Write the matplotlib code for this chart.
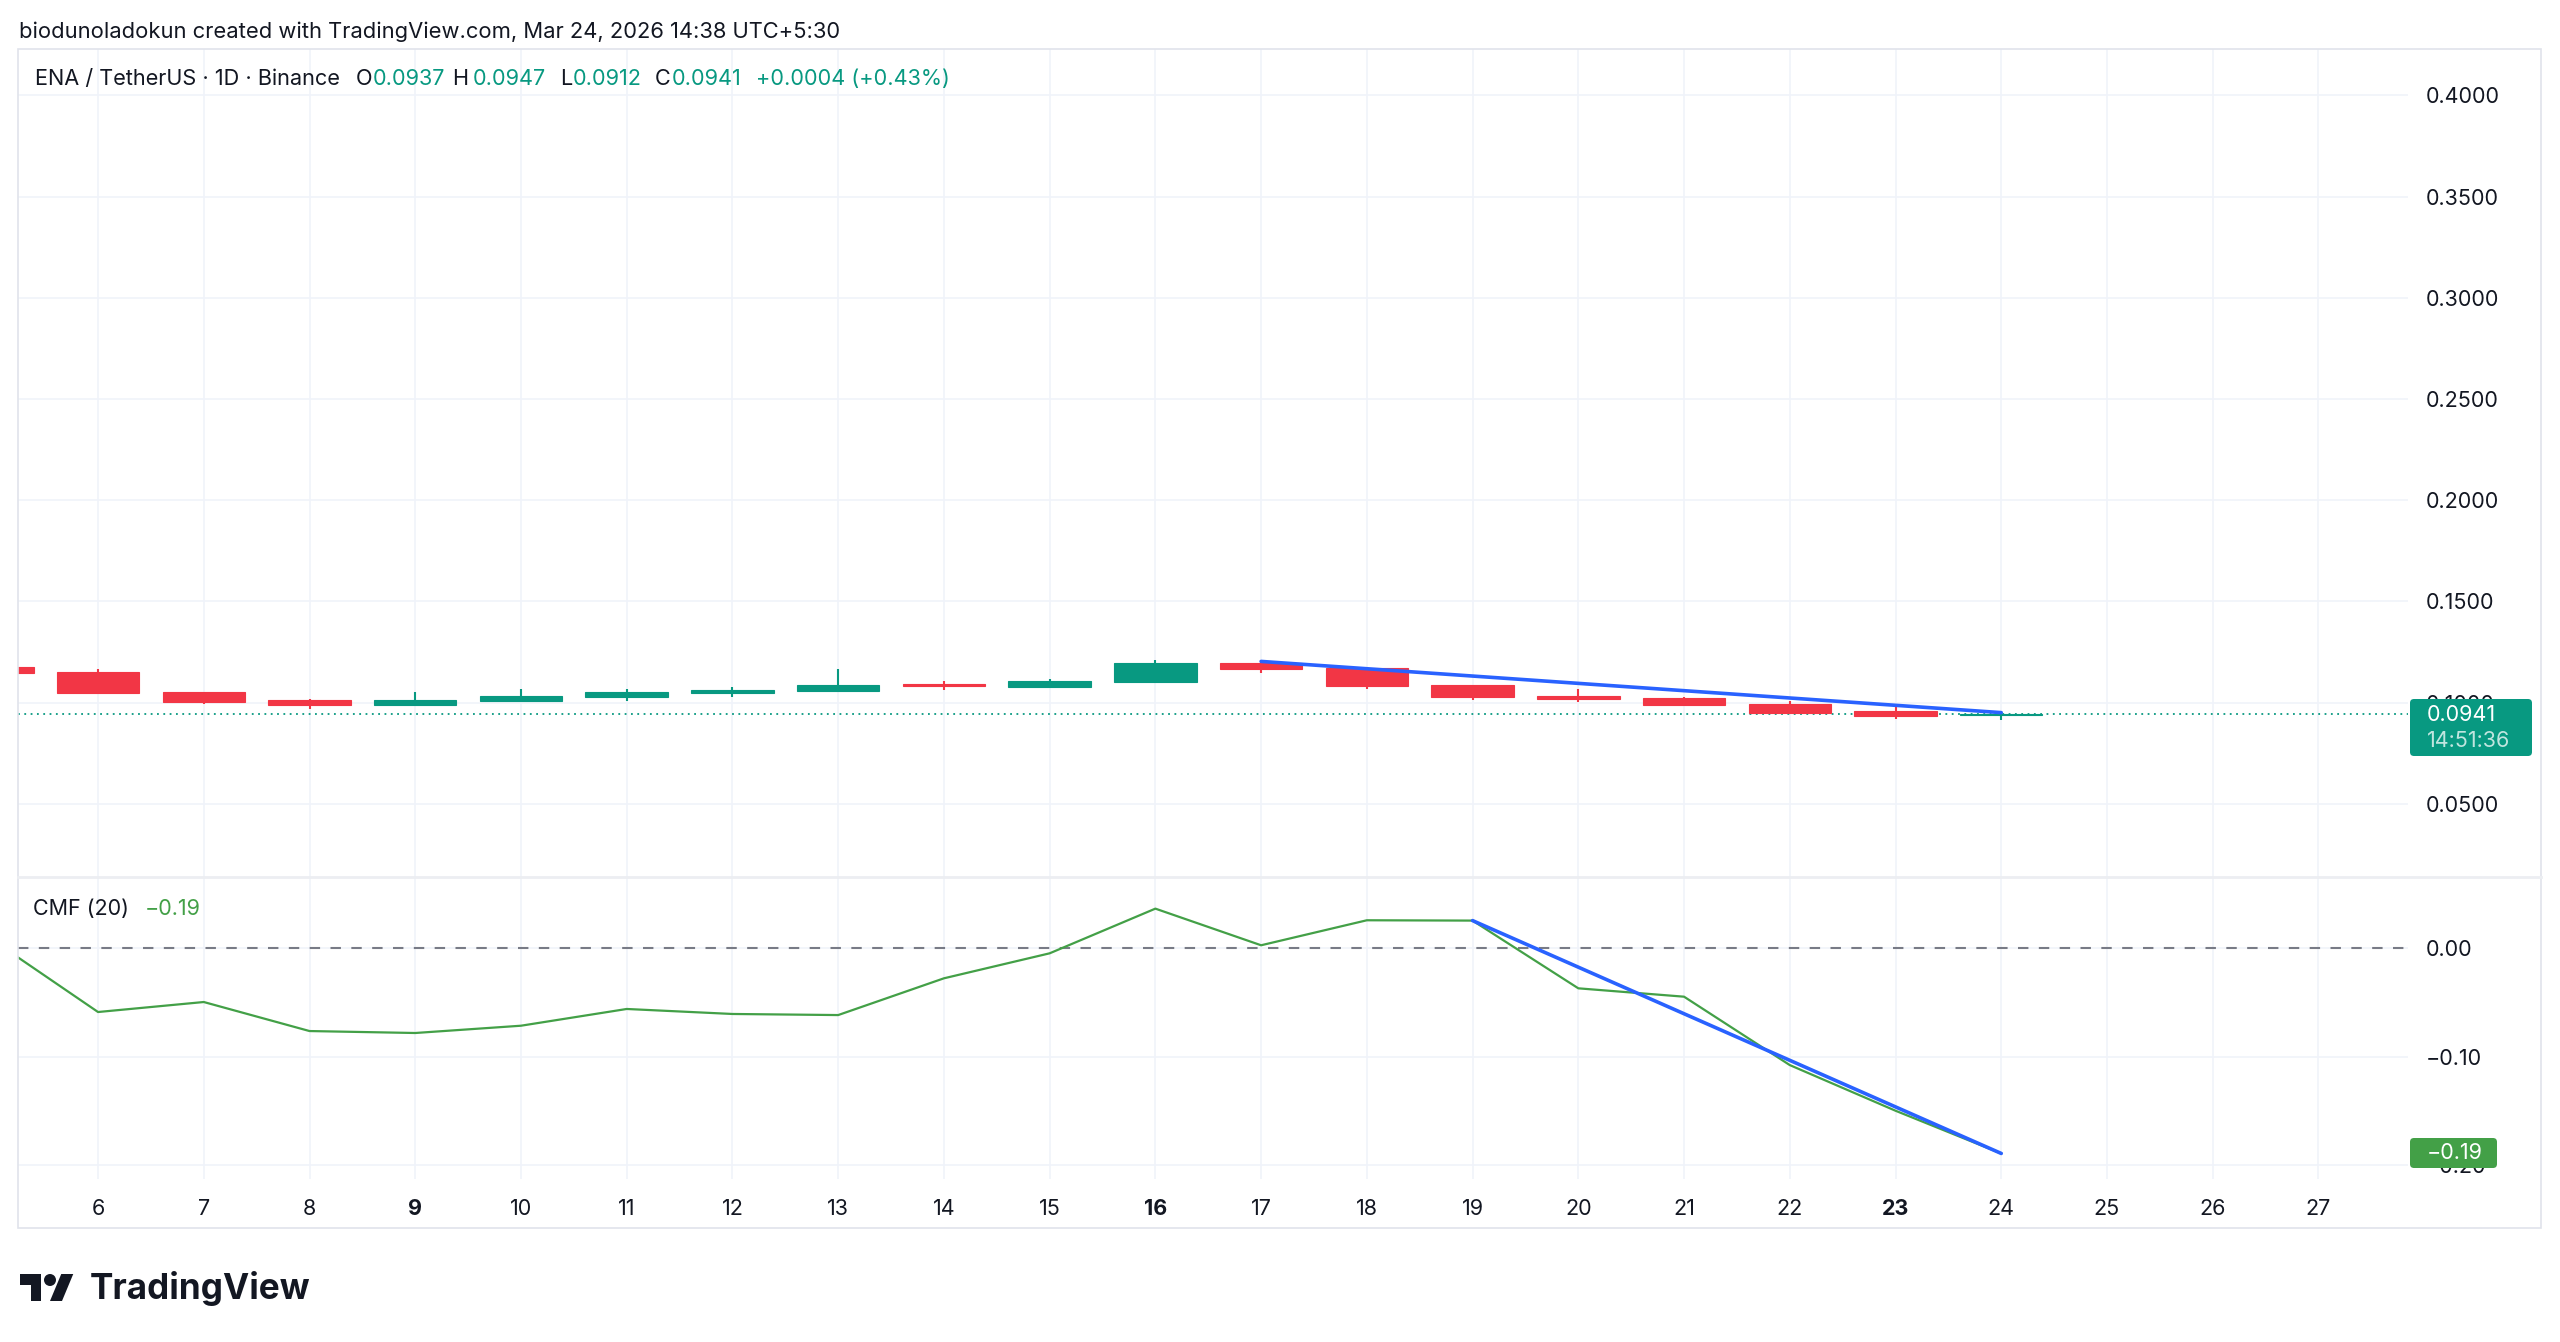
import matplotlib.pyplot as plt
from matplotlib.patches import Rectangle, FancyBboxPatch, Polygon, Circle
from matplotlib.lines import Line2D
from matplotlib.transforms import IdentityTransform

# Daily candles ENA / USDT (Binance), day of month
days = list(range(5, 25))
opens = [0.1177, 0.1152, 0.1050, 0.1010, 0.0986, 0.1007, 0.1027, 0.1045, 0.1058, 0.1093,
         0.1076, 0.1101, 0.1197, 0.1169, 0.1086, 0.1030, 0.1022, 0.0991, 0.0956, 0.0937]
highs = [0.1185, 0.1164, 0.1050, 0.1019, 0.1050, 0.1068, 0.1068, 0.1076, 0.1164, 0.1104,
         0.1117, 0.1208, 0.1208, 0.1177, 0.1086, 0.1068, 0.1027, 0.1007, 0.0991, 0.0947]
lows = [0.1140, 0.1040, 0.0992, 0.0968, 0.0986, 0.1007, 0.1009, 0.1027, 0.1058, 0.1063,
        0.1071, 0.1101, 0.1147, 0.1068, 0.1010, 0.1004, 0.0987, 0.0941, 0.0918, 0.0912]
closes = [0.1147, 0.1045, 0.1004, 0.0986, 0.1014, 0.1030, 0.1050, 0.1063, 0.1086, 0.1081,
          0.1104, 0.1197, 0.1164, 0.1083, 0.1027, 0.1017, 0.0987, 0.0949, 0.0935, 0.0941]

# Chaikin Money Flow (20)
cmf = [0.0075, -0.0589, -0.0497, -0.0764, -0.0782, -0.0715, -0.0561, -0.0607, -0.0617, -0.0279,
       -0.0049, 0.0362, 0.0025, 0.0255, 0.0252, -0.0371, -0.0448, -0.1077, -0.1497, -0.1890]

# drawn trend lines
trend_price_days = [17, 24]
trend_price_vals = [0.1203, 0.0950]
trend_cmf_days = [19, 24]
trend_cmf_vals = [0.0252, -0.1890]

day_ticks = list(range(6, 28))
bold_days = [9, 16, 23]
price_ticks = [0.05, 0.10, 0.15, 0.20, 0.25, 0.30, 0.35, 0.40]
cmf_ticks = [0.0, -0.1, -0.2]
cmf_tick_labels = ['0.00', '\u22120.10', '\u22120.20']

UP = '#089981'
DOWN = '#F23645'
CMF_COL = '#43A047'
BLUE = '#2962FF'
TXT = '#131722'
GRID = '#F0F3FA'

plt.rcParams['font.family'] = ['Inter', 'DejaVu Sans']

W, H = 2560, 1342
fig = plt.figure(figsize=(W / 100, H / 100), dpi=100)
fig.patch.set_facecolor('white')


def box(x0, y0, x1, y1):
    # pixel box (y from top) -> figure fraction rect
    return [x0 / W, 1 - y1 / H, (x1 - x0) / W, (y1 - y0) / H]


def ftext(x, y, s, **kw):
    fig.text(x / W, 1 - y / H, s, va='center', ha='left', **kw)


ax = fig.add_axes(box(18, 49, 2408, 877))
ax2 = fig.add_axes(box(18, 877, 2408, 1179), sharex=ax)

for a in (ax, ax2):
    for s in a.spines.values():
        s.set_visible(False)
    a.set_facecolor('white')
    a.grid(True, color=GRID, linewidth=1.2, zorder=0)
    a.set_axisbelow(True)
    a.yaxis.tick_right()
    a.tick_params(axis='y', length=0, pad=13, labelsize=15.5, labelcolor=TXT)

ax.set_xlim(5.243, 27.847)
ax.set_xticks(day_ticks)
ax.tick_params(axis='x', length=0, labelbottom=False)

# candles
cols = [UP if c >= o else DOWN for o, c in zip(opens, closes)]
ax.vlines(days, lows, highs, colors=cols, linewidth=1.5, zorder=3)
ax.bar(days, [max(abs(c - o), 0.0003) for o, c in zip(opens, closes)],
       bottom=[min(o, c) for o, c in zip(opens, closes)], width=0.78,
       color=cols, edgecolor=cols, linewidth=0.8, zorder=4)
ax.axhline(closes[-1], color=UP, linestyle=(0, (1, 2.5)), linewidth=1.3, zorder=2)
ax.plot(trend_price_days, trend_price_vals, color=BLUE, linewidth=2.6,
        solid_capstyle='round', zorder=5)
ax.set_ylim(0.01378, 0.4229)
ax.set_yticks(price_ticks)
ax.set_yticklabels([f'{p:.4f}' for p in price_ticks])

# CMF pane
ax2.axhline(0, color='#787B86', linestyle=(0, (5, 5)), linewidth=1.5, zorder=2)
ax2.plot(days, cmf, color=CMF_COL, linewidth=1.6, zorder=3)
ax2.plot(trend_cmf_days, trend_cmf_vals, color=BLUE, linewidth=2.6,
         solid_capstyle='round', zorder=4)
ax2.set_ylim(-0.2125, 0.0653)
ax2.set_yticks(cmf_ticks)
ax2.set_yticklabels(cmf_tick_labels)
ax2.tick_params(axis='x', length=0, pad=14.5, labelsize=15.5, labelcolor=TXT)
ax2.set_xticks(day_ticks)
ax2.set_xticklabels([str(d) for d in day_ticks])
for lbl, d in zip(ax2.get_xticklabels(), day_ticks):
    if d in bold_days:
        lbl.set_fontweight('bold')

# frame and pane separator
idt = IdentityTransform()
fig.add_artist(Rectangle((18, H - 1228), 2541 - 18, 1228 - 49, transform=idt,
                         fill=False, edgecolor='#E0E3EB', linewidth=1.2))
fig.add_artist(Line2D([18, 2541], [H - 877, H - 877], transform=idt,
                      color='#ECEEF2', linewidth=2))

# last value labels on the scales
fig.add_artist(FancyBboxPatch((2410, H - 756), 122, 57, transform=idt,
                              boxstyle='round,pad=0,rounding_size=4',
                              facecolor=UP, edgecolor='none', zorder=10))
fig.text(2427 / W, 1 - 715 / H, f'{closes[-1]:.4f}', color='white', fontsize=15.5,
         va='center', ha='left', zorder=11)
fig.text(2427 / W, 1 - 741 / H, '14:51:36', color='white', alpha=0.75, fontsize=15.5,
         va='center', ha='left', zorder=11)
fig.add_artist(FancyBboxPatch((2410, H - 1168), 87, 30, transform=idt,
                              boxstyle='round,pad=0,rounding_size=4',
                              facecolor=CMF_COL, edgecolor='none', zorder=10))
fig.text(2427 / W, 1 - 1153 / H, '\u22120.19', color='white', fontsize=15.5,
         va='center', ha='left', zorder=11)

# header texts
ftext(19, 32, 'biodunoladokun created with TradingView.com, Mar 24, 2026 14:38 UTC+5:30',
      color=TXT, fontsize=15.8)
legend_parts = [
    (35, 'ENA / TetherUS \u00b7 1D \u00b7 Binance', TXT),
    (356, 'O', TXT), (373, f'{opens[-1]:.4f}', UP),
    (452, 'H', TXT), (473, f'{highs[-1]:.4f}', UP),
    (560, 'L', TXT), (573, f'{lows[-1]:.4f}', UP),
    (655, 'C', TXT), (672, f'{closes[-1]:.4f}', UP),
    (756, '+0.0004 (+0.43%)', UP),
]
for x, s, c in legend_parts:
    ftext(x, 79, s, color=c, fontsize=15.6)
ftext(33, 909, 'CMF (20)', color=TXT, fontsize=15.5)
ftext(145, 909, '\u22120.19', color=CMF_COL, fontsize=15.5)

# TradingView logo
sc, lx, ly = 1.5, 20, 1268


def pt(u, v):
    return (lx + u * sc, H - (ly + v * sc))


fig.add_artist(Polygon([pt(14, 22), pt(7, 22), pt(7, 11), pt(0, 11), pt(0, 4), pt(14, 4)],
                       closed=True, transform=idt, facecolor=TXT, edgecolor='none'))
fig.add_artist(Polygon([pt(28, 22), pt(20, 22), pt(27.5, 4), pt(35.5, 4)],
                       closed=True, transform=idt, facecolor=TXT, edgecolor='none'))
cx, cy = pt(20, 8)
fig.add_artist(Circle((cx, cy), 4 * sc, transform=idt, facecolor=TXT, edgecolor='none'))
ftext(90, 1289, 'TradingView', color=TXT, fontsize=25.3, fontweight='bold')

fig.savefig('out.png', dpi=100, facecolor='white')
